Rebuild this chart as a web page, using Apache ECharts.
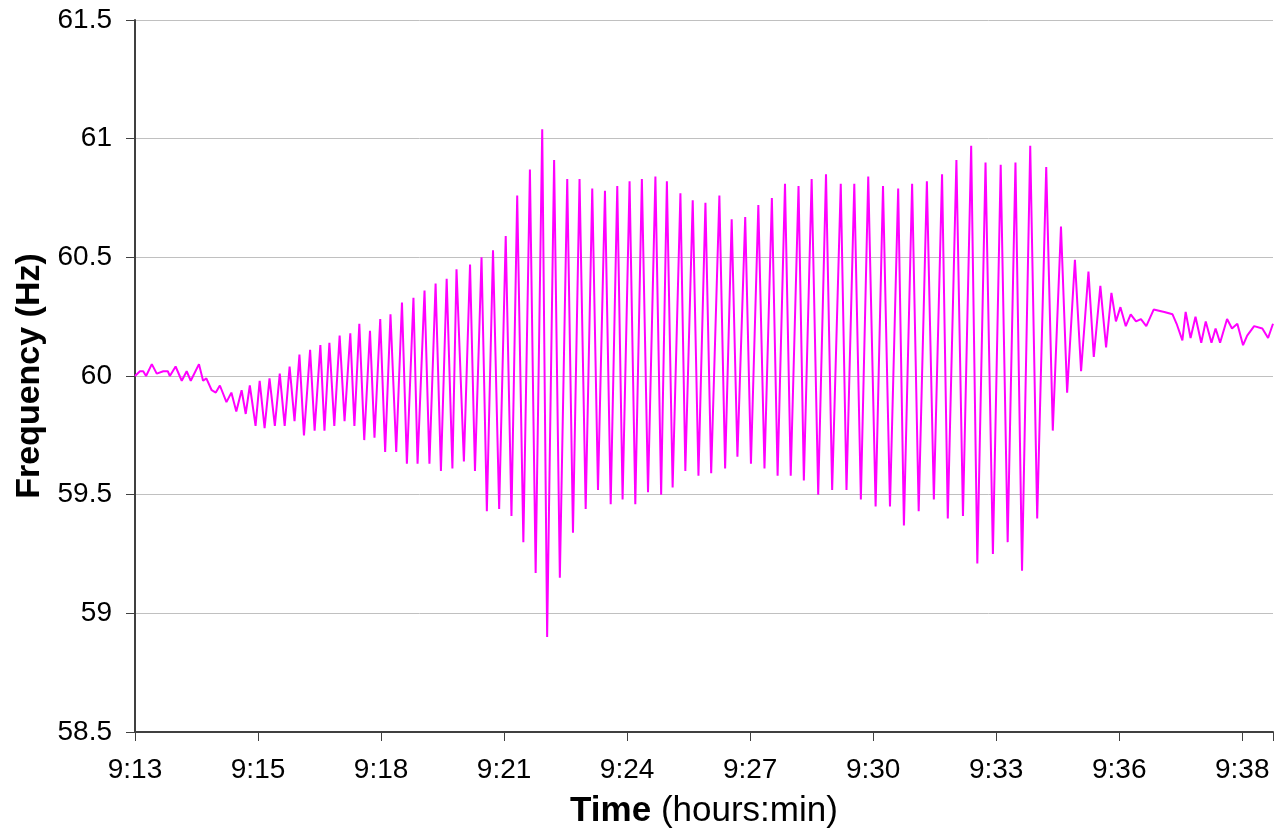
<!DOCTYPE html>
<html>
<head>
<meta charset="utf-8">
<script src="https://cdn.jsdelivr.net/npm/echarts@6/dist/echarts.min.js"></script>
<style>
  html, body { margin: 0; padding: 0; background: #fff; }
  #chart { width: 1276px; height: 836px; }
</style>
</head>
<body>
<div id="chart"></div>
<script>
// minutes after 9:13
var timeMin = [0, 0.04, 0.12, 0.20, 0.27, 0.41, 0.53, 0.69, 0.80, 0.85, 0.99,
  1.14, 1.26, 1.36, 1.56, 1.66, 1.74, 1.87, 1.97, 2.07, 2.23,
  2.35, 2.47, 2.60, 2.70, 2.80, 2.94, 3.04, 3.16, 3.28, 3.41,
  3.53, 3.65, 3.77, 3.89, 4.01, 4.12, 4.27, 4.38, 4.52, 4.62,
  4.74, 4.86, 4.99, 5.11, 5.25, 5.35, 5.47, 5.59, 5.73, 5.84,
  5.98, 6.10, 6.23, 6.37, 6.51, 6.63, 6.79, 6.89, 7.06, 7.18,
  7.33, 7.46, 7.60, 7.74, 7.84, 8.02, 8.17, 8.29, 8.45, 8.58,
  8.73, 8.88, 9.04, 9.18, 9.32, 9.47, 9.63, 9.77, 9.93, 10.05,
  10.22, 10.36, 10.54, 10.68, 10.84, 10.99, 11.15, 11.29, 11.46, 11.60,
  11.76, 11.89, 12.06, 12.20, 12.36, 12.51, 12.69, 12.83, 12.97, 13.11,
  13.30, 13.42, 13.60, 13.74, 13.91, 14.05, 14.25, 14.39, 14.55, 14.69,
  14.88, 15.02, 15.20, 15.35, 15.53, 15.67, 15.85, 15.99, 16.18, 16.31,
  16.50, 16.66, 16.85, 17.00, 17.21, 17.35, 17.54, 17.70, 17.88, 18.06,
  18.24, 18.41, 18.61, 18.75, 18.95, 19.11, 19.31, 19.48, 19.68, 19.82,
  20.03, 20.19, 20.39, 20.54, 20.74, 20.92, 21.11, 21.28, 21.47, 21.63,
  21.83, 22.00, 22.22, 22.38, 22.58, 22.73, 22.92, 23.07, 23.25, 23.38,
  23.54, 23.68, 23.81, 23.92, 24.03, 24.16, 24.28, 24.41, 24.53, 24.66,
  24.84, 25.10, 25.30, 25.40, 25.54, 25.62, 25.74, 25.86, 26.00, 26.11,
  26.25, 26.35, 26.46, 26.63, 26.75, 26.88, 27.02, 27.12, 27.29, 27.49,
  27.63, 27.75];

var freqHz = [60.00, 60.00, 60.02, 60.02, 60.00, 60.05, 60.01, 60.02, 60.02, 60.00, 60.04,
  59.98, 60.02, 59.98, 60.05, 59.98, 59.99, 59.94, 59.93, 59.96, 59.89,
  59.93, 59.85, 59.94, 59.84, 59.96, 59.79, 59.98, 59.78, 59.99, 59.79,
  60.01, 59.79, 60.04, 59.81, 60.09, 59.75, 60.11, 59.77, 60.13, 59.77,
  60.14, 59.79, 60.17, 59.81, 60.18, 59.79, 60.22, 59.73, 60.19, 59.74,
  60.24, 59.68, 60.26, 59.68, 60.31, 59.63, 60.33, 59.63, 60.36, 59.63,
  60.39, 59.60, 60.41, 59.61, 60.45, 59.64, 60.47, 59.60, 60.50, 59.43,
  60.53, 59.44, 60.59, 59.41, 60.76, 59.30, 60.87, 59.17, 61.04, 58.90,
  60.91, 59.15, 60.83, 59.34, 60.83, 59.44, 60.79, 59.52, 60.78, 59.46,
  60.80, 59.48, 60.82, 59.46, 60.83, 59.51, 60.84, 59.50, 60.82, 59.53,
  60.77, 59.60, 60.74, 59.58, 60.73, 59.59, 60.76, 59.61, 60.66, 59.66,
  60.67, 59.63, 60.72, 59.61, 60.75, 59.58, 60.81, 59.58, 60.80, 59.56,
  60.83, 59.50, 60.85, 59.52, 60.81, 59.52, 60.81, 59.48, 60.84, 59.45,
  60.80, 59.45, 60.79, 59.37, 60.81, 59.43, 60.82, 59.48, 60.85, 59.40,
  60.91, 59.41, 60.97, 59.21, 60.90, 59.25, 60.89, 59.30, 60.90, 59.18,
  60.97, 59.40, 60.88, 59.77, 60.63, 59.93, 60.49, 60.02, 60.44, 60.08,
  60.38, 60.12, 60.35, 60.23, 60.29, 60.21, 60.26, 60.23, 60.24, 60.21,
  60.28, 60.27, 60.26, 60.22, 60.15, 60.27, 60.16, 60.25, 60.14, 60.23,
  60.14, 60.20, 60.14, 60.24, 60.20, 60.22, 60.13, 60.17, 60.21, 60.20,
  60.16, 60.22];

// x tick labels, one every 3 units
var timeLabels = ['9:13', '9:15', '9:18', '9:21', '9:24', '9:27', '9:30', '9:33', '9:36', '9:38'];

var seriesData = timeMin.map(function (t, i) {
  return [t, freqHz[i]];
});

var chart = echarts.init(document.getElementById('chart'));
var option = {
  backgroundColor: '#ffffff',
  animation: false,
  textStyle: { fontFamily: 'Arial, "Liberation Sans", sans-serif', color: '#000' },
  grid: { left: 135, right: 0, top: 20, bottom: 104, containLabel: false },
  xAxis: {
    type: 'value',
    min: 0,
    max: 27.75,
    interval: 3,
    showMaxLabel: false,
    name: '{b|Time}{n| (hours:min)}',
    nameLocation: 'middle',
    nameGap: 62,
    nameTextStyle: {
      rich: {
        b: { fontSize: 35, fontWeight: 'bold', color: '#000', fontFamily: 'Arial, "Liberation Sans", sans-serif' },
        n: { fontSize: 35, color: '#000', fontFamily: 'Arial, "Liberation Sans", sans-serif' }
      }
    },
    axisLine: { lineStyle: { color: '#404040', width: 2 } },
    axisTick: { show: true, inside: false, length: 9, lineStyle: { color: '#404040', width: 1 } },
    axisLabel: {
      fontSize: 28,
      color: '#000',
      margin: 24,
      formatter: function (v) {
        var k = v / 3;
        return Math.abs(k - Math.round(k)) < 1e-6 ? (timeLabels[Math.round(k)] || '') : '';
      }
    },
    splitLine: { show: false }
  },
  yAxis: {
    type: 'value',
    min: 58.5,
    max: 61.5,
    interval: 0.5,
    name: 'Frequency (Hz)',
    nameLocation: 'middle',
    nameGap: 84,
    nameTextStyle: { fontSize: 34, fontWeight: 'bold', color: '#000' },
    axisLine: { show: true, lineStyle: { color: '#404040', width: 2 } },
    axisTick: { show: true, inside: false, length: 9, lineStyle: { color: '#404040', width: 1 } },
    axisLabel: { fontSize: 28, color: '#000', margin: 23 },
    splitLine: { show: true, lineStyle: { color: '#c0c0c0', width: 1 } }
  },
  series: [{
    type: 'line',
    data: seriesData,
    showSymbol: false,
    symbol: 'none',
    lineStyle: { color: '#ff00ff', width: 2 },
    z: 3
  }]
};
chart.setOption(option);
</script>
</body>
</html>
